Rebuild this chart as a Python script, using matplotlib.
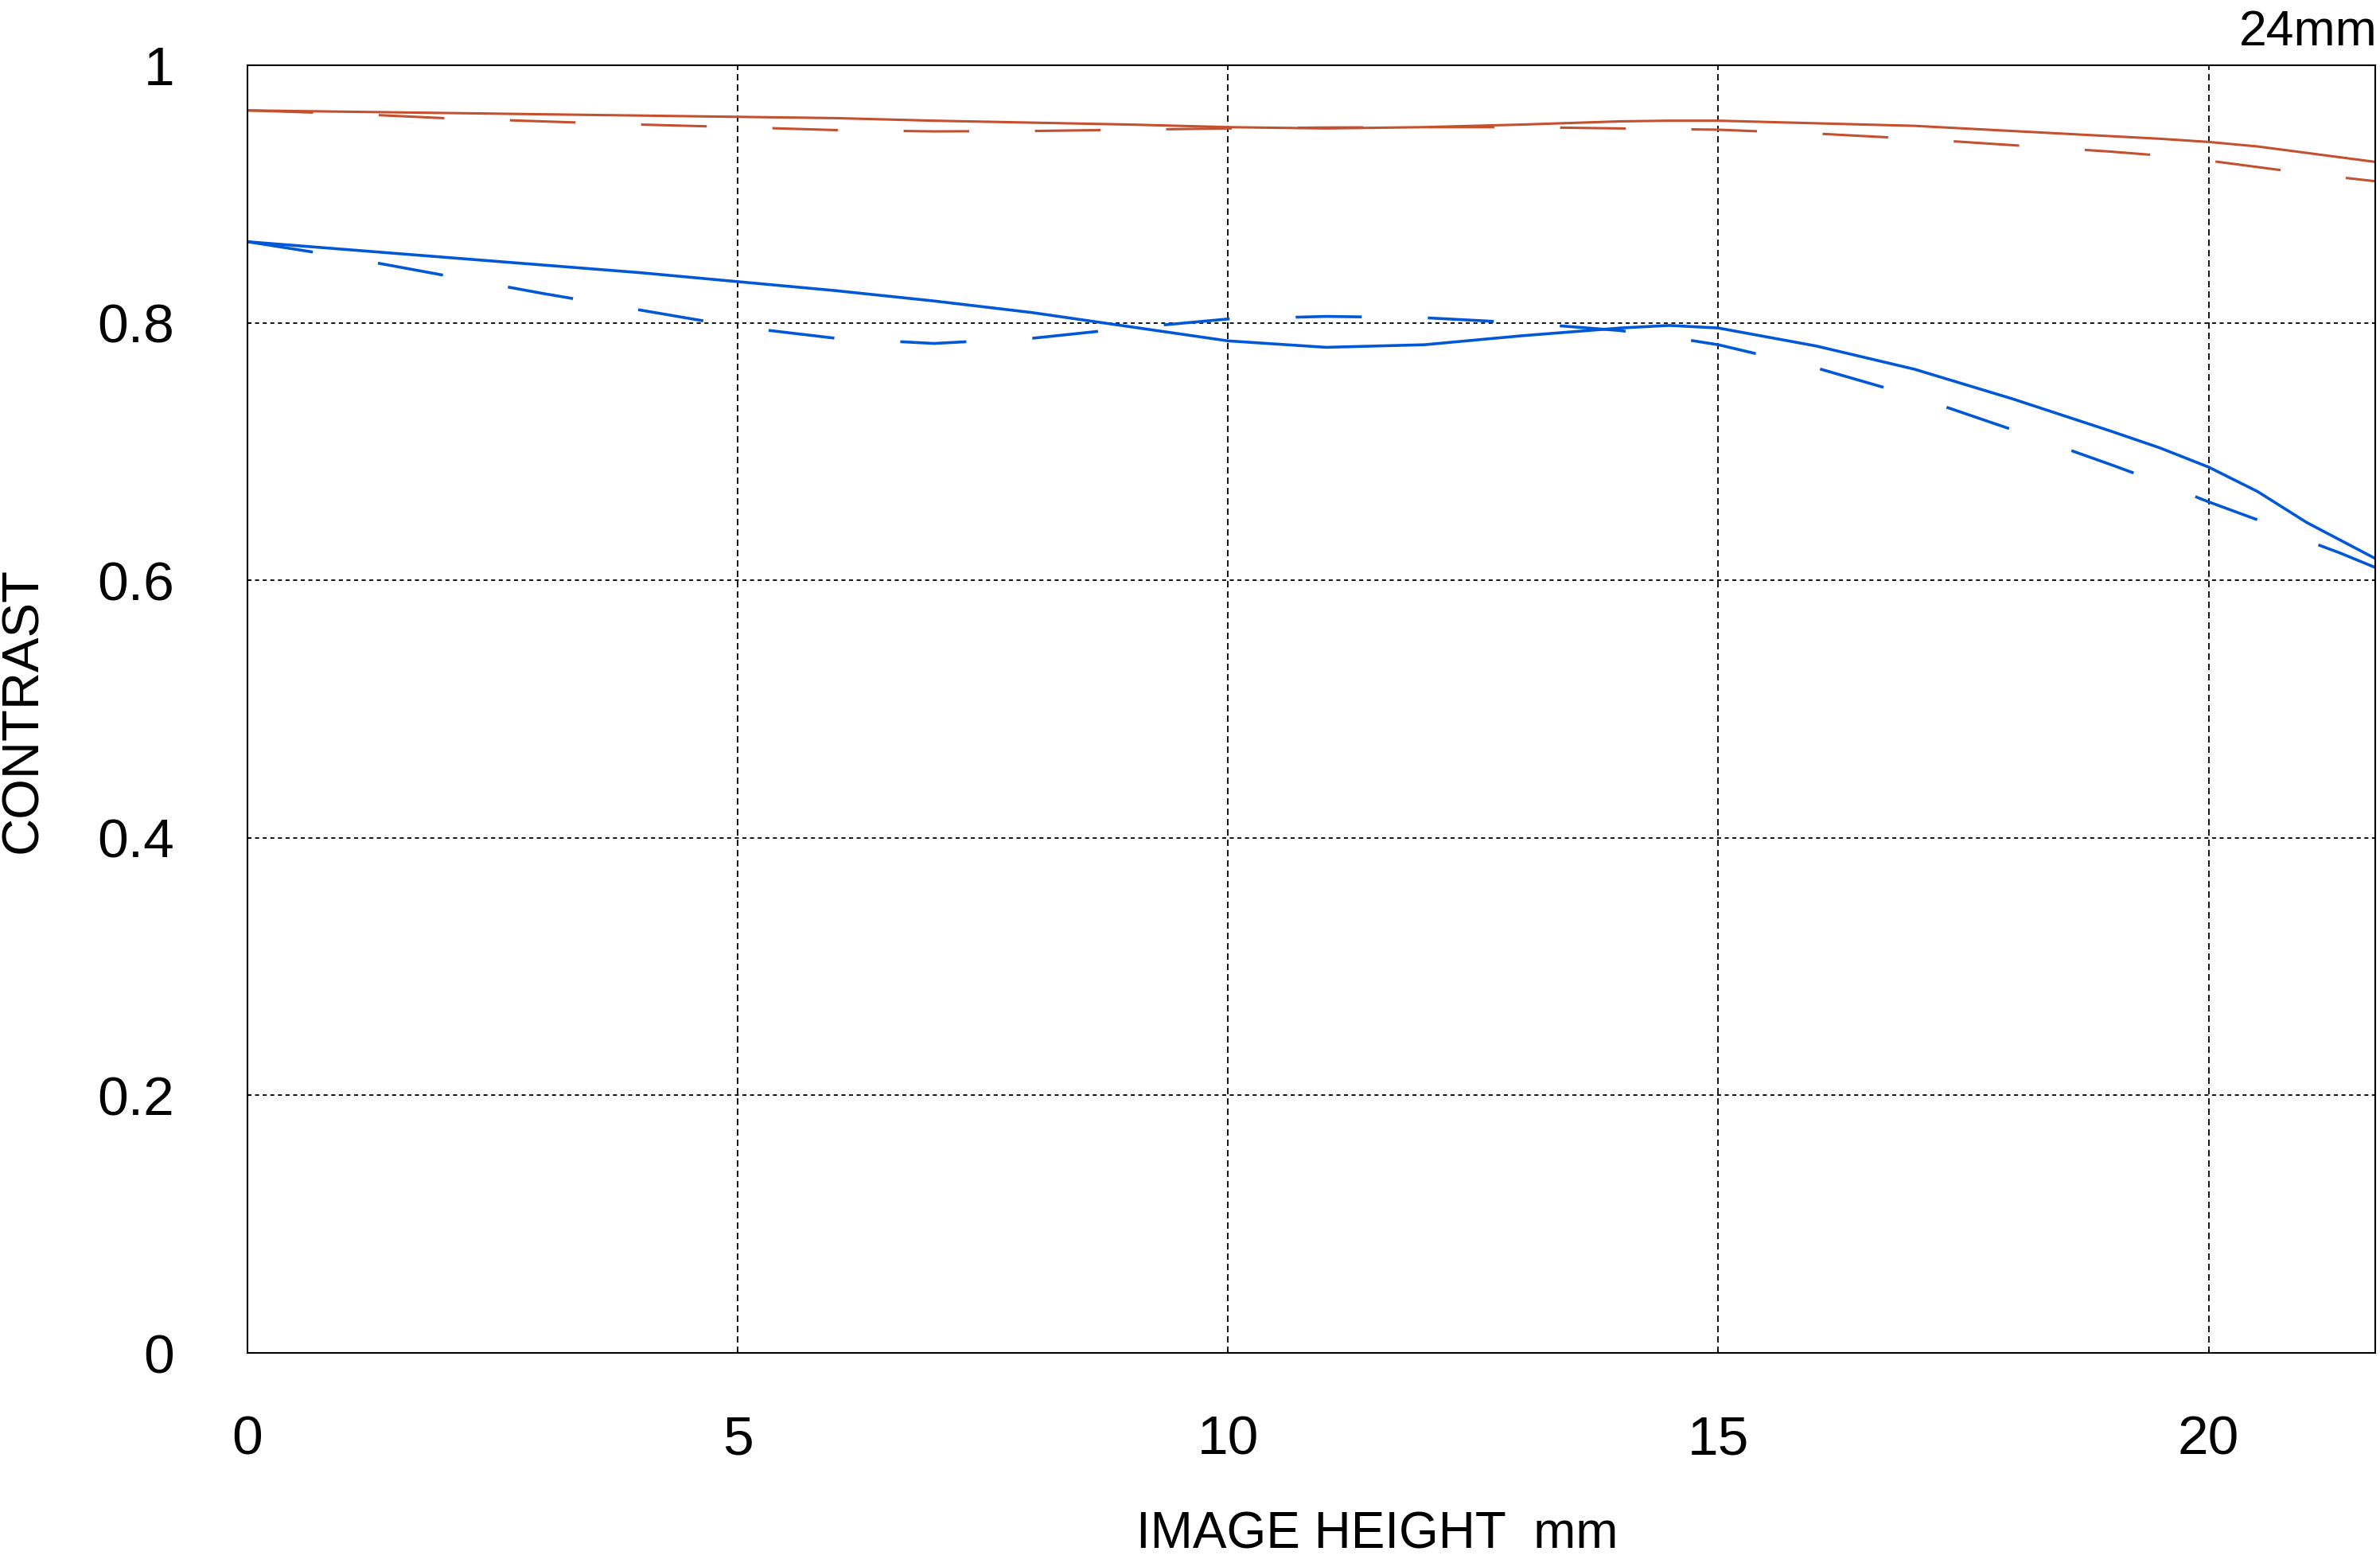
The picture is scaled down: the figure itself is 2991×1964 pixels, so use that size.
" MTF chart, 24mm "

import matplotlib.pyplot as plt

# data (image height in mm, contrast)
height_mm = [0, 1, 2, 3, 4, 5, 6, 7, 8, 9, 10, 11, 12, 13, 14, 14.5, 15,
             16, 17, 18, 19, 19.5, 20, 20.5, 21, 21.35, 21.7]
red_solid = [0.965, 0.964, 0.963, 0.962, 0.961, 0.960, 0.959, 0.957, 0.9555,
             0.954, 0.952, 0.951, 0.952, 0.954, 0.9565, 0.957, 0.957, 0.955,
             0.953, 0.949, 0.945, 0.943, 0.9405, 0.937, 0.932, 0.9285, 0.925]
red_dashed = [0.965, 0.9625, 0.959, 0.9565, 0.954, 0.952, 0.9497, 0.9487,
              0.949, 0.950, 0.951, 0.9517, 0.952, 0.952, 0.951, 0.9505, 0.950,
              0.947, 0.943, 0.938, 0.933, 0.930, 0.926, 0.921, 0.916, 0.913,
              0.910]
blue_solid = [0.863, 0.857, 0.851, 0.845, 0.839, 0.832, 0.825, 0.817, 0.808,
              0.797, 0.786, 0.781, 0.783, 0.790, 0.796, 0.798, 0.796, 0.782,
              0.764, 0.741, 0.716, 0.703, 0.688, 0.669, 0.645, 0.631, 0.617]
blue_dashed = [0.863, 0.851, 0.837, 0.823, 0.810, 0.797, 0.788, 0.784, 0.788,
               0.796, 0.803, 0.805, 0.804, 0.800, 0.794, 0.789, 0.783, 0.765,
               0.743, 0.717, 0.690, 0.676, 0.661, 0.647, 0.631, 0.621, 0.610]

x_ticks = [0, 5, 10, 15, 20]
y_ticks = [0, 0.2, 0.4, 0.6, 0.8, 1]
y_tick_labels = ["0", "0.2", "0.4", "0.6", "0.8", "1"]

RED = "#C4502F"
BLUE = "#0058D8"

plt.rcParams["font.family"] = ["Liberation Sans", "DejaVu Sans"]

fig = plt.figure(figsize=(29.91, 19.64), dpi=100)
ax = fig.add_axes([0.104, 0.1344, 0.894, 0.8238])

ax.plot(height_mm, red_solid, color=RED, linewidth=2.2)
ax.plot(height_mm, red_dashed, color=RED, linewidth=2.2, linestyle=(0, (27, 27)))
ax.plot(height_mm, blue_solid, color=BLUE, linewidth=2.6)
ax.plot(height_mm, blue_dashed, color=BLUE, linewidth=2.6, linestyle=(0, (23, 23)))

ax.set_xlim(0, 21.7)
ax.set_ylim(0, 1)
ax.set_xticks(x_ticks)
ax.set_xticklabels([str(t) for t in x_ticks])
ax.set_yticks(y_ticks)
ax.set_yticklabels(y_tick_labels)

for t in x_ticks[1:]:
    ax.axvline(t, color="black", linewidth=1.3, linestyle=(0, (4.4, 2.8)), zorder=0)
for t in y_ticks[1:-1]:
    ax.axhline(t, color="black", linewidth=1.3, linestyle=(0, (2.8, 2.5)), zorder=0)

for spine in ax.spines.values():
    spine.set_linewidth(1.5)
ax.tick_params(axis="both", direction="in", length=3, width=1.2, labelsize=50)
ax.tick_params(axis="y", pad=66)
ax.tick_params(axis="x", pad=56)

fig.text(0.5787, 1 - 1928 / 1964, "IMAGE HEIGHT  mm", fontsize=46,
         ha="center", va="center")
fig.text(29 / 2991, 1 - 892 / 1964, "CONTRAST", fontsize=47, rotation=90,
         ha="center", va="center")
fig.text(2988 / 2991, 1 - 57 / 1964, "24mm", fontsize=45, ha="right",
         va="baseline")

fig.savefig("out.png", dpi=100)
